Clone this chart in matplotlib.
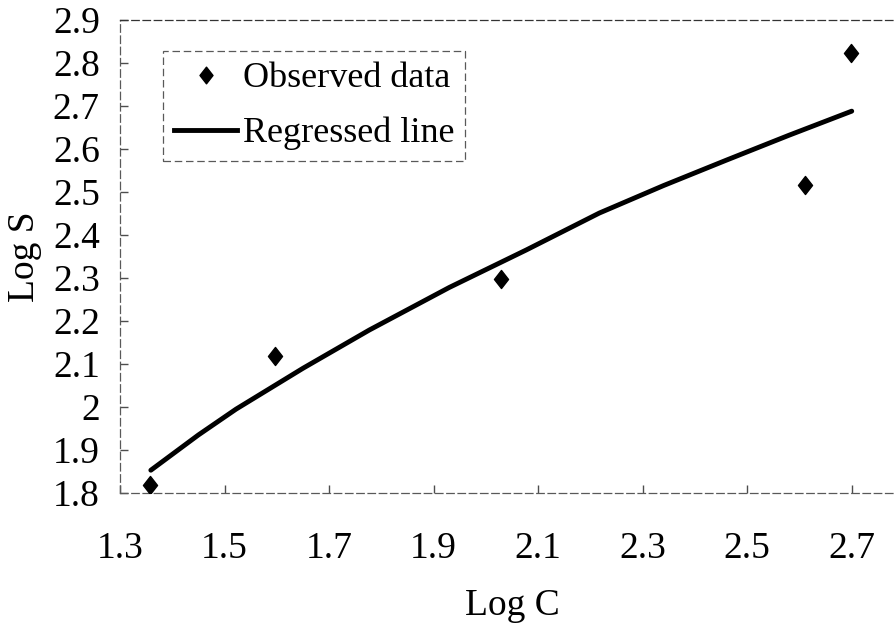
import matplotlib
matplotlib.use("Agg")
import matplotlib.pyplot as plt
from matplotlib.path import Path
from matplotlib.lines import Line2D

obs_log_c = [1.358, 1.597, 2.029, 2.611, 2.699]
obs_log_s = [1.819, 2.119, 2.298, 2.516, 2.823]

# Regressed line
reg_log_c = [1.359, 1.45, 1.522, 1.65, 1.777, 1.93, 2.077, 2.217, 2.34, 2.46, 2.58, 2.70]
reg_log_s = [1.853, 1.935, 1.995, 2.090, 2.179, 2.278, 2.365, 2.451, 2.515, 2.574, 2.632, 2.688]

x_ticks = [1.3, 1.5, 1.7, 1.9, 2.1, 2.3, 2.5, 2.7]
y_ticks = [1.8, 1.9, 2.0, 2.1, 2.2, 2.3, 2.4, 2.5, 2.6, 2.7, 2.8, 2.9]
y_tick_labels = ["1.8", "1.9", "2", "2.1", "2.2", "2.3", "2.4", "2.5", "2.6", "2.7", "2.8", "2.9"]

plt.rcParams['font.family'] = ['Liberation Serif', 'DejaVu Serif']

W, H = 895, 627
fig = plt.figure(figsize=(W / 100, H / 100), dpi=100)
ax = fig.add_axes([120 / W, 134 / H, 784 / W, 473 / H])

diamond = Path([(0, 1), (0.78, 0), (0, -1), (-0.78, 0), (0, 1)],
               [Path.MOVETO, Path.LINETO, Path.LINETO, Path.LINETO, Path.CLOSEPOLY])

ax.plot(reg_log_c, reg_log_s, color='black', lw=3.5, solid_capstyle='round', zorder=2)
ax.plot(obs_log_c, obs_log_s, linestyle='none', marker=diamond, ms=13,
        color='black', zorder=3)

ax.set_xlim(1.3, 2.8)
ax.set_ylim(1.8, 2.9)
ax.set_xticks(x_ticks)
ax.set_xticklabels([f"{v:.1f}" for v in x_ticks])
ax.set_yticks(y_ticks)
ax.set_yticklabels(y_tick_labels)

ax.tick_params(axis='both', direction='in', length=6, width=1, color='0.3',
               labelsize=27)
ax.tick_params(axis='x', pad=28)
ax.tick_params(axis='y', pad=14.5)

for side in ['top', 'left', 'bottom', 'right']:
    ax.spines[side].set_linestyle((0, (6, 3)))
    ax.spines[side].set_color('0.35')
    ax.spines[side].set_linewidth(0.9)
ax.spines['top'].set_color('0.2')

ax.set_xlabel("Log C", fontsize=27, labelpad=16)
ax.set_ylabel("Log S", fontsize=27, labelpad=8)

handles = [
    Line2D([], [], linestyle='none', marker=diamond, ms=12, color='black'),
    Line2D([], [], color='black', lw=3.5),
]
leg = ax.legend(handles, ["Observed data", "Regressed line"],
                loc='upper left', bbox_to_anchor=(0.055, 0.934), borderaxespad=0,
                fontsize=26, handlelength=1.75, handletextpad=0.15, borderpad=0.3,
                labelspacing=0.6, fancybox=False, framealpha=1)
frame = leg.get_frame()
frame.set_edgecolor('0.35')
frame.set_linestyle((0, (6, 3)))
frame.set_linewidth(0.9)

fig.savefig("out.png", dpi=100)
